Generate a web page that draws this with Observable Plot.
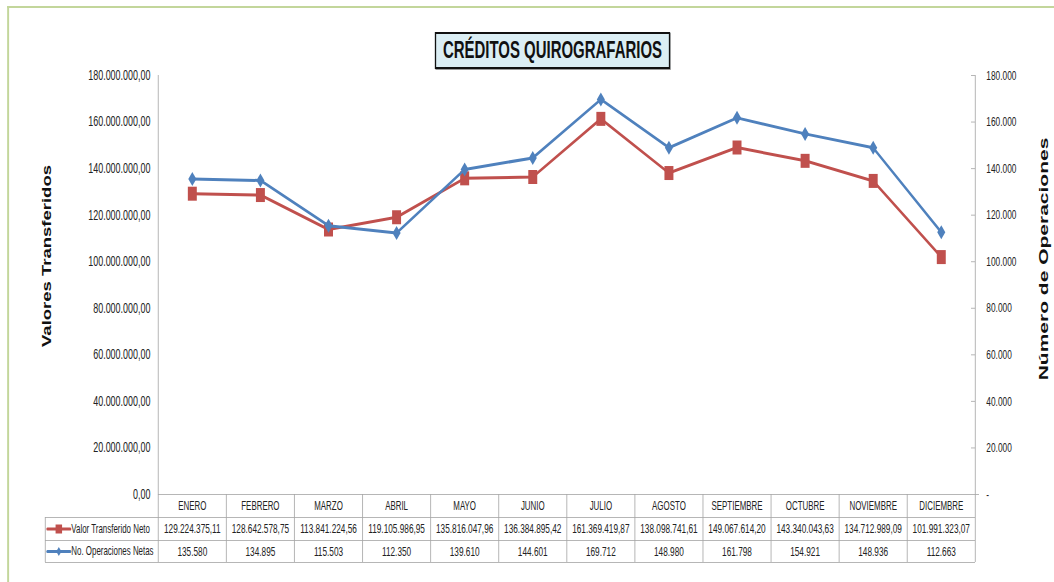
<!DOCTYPE html>
<html>
<head>
<meta charset="utf-8">
<script src="https://cdn.jsdelivr.net/npm/d3@7"></script>
<script src="https://cdn.jsdelivr.net/npm/@observablehq/plot@0.6"></script>
<style>
  html, body { margin: 0; padding: 0; background: #fff; }
  #outer { position: relative; width: 1054px; height: 582px; overflow: hidden; background: #fff; }
  #inner { position: absolute; left: 0; top: 0; height: 582px; transform-origin: 0 0; }
  #frame { position: absolute; top: 6px; height: 700px; border-top: 2px solid #c3d69b; border-left: 3px solid #c3d69b; }
  #title { position: absolute; box-sizing: border-box; background: #dbeef4; border: 2px solid #111;
           box-shadow: 1px 1px 0 #9a9a9a; font: bold 23px "Liberation Sans", Arial, sans-serif; color: #111;
           display: flex; align-items: center; justify-content: center; white-space: nowrap; }
  #chart { position: absolute; left: 0; top: 0; }
</style>
</head>
<body>
<div id="outer"><div id="inner"><div id="frame"></div><div id="chart"></div><div id="title"></div></div></div>
<script>
// ---------- data ----------
const months = ["ENERO", "FEBRERO", "MARZO", "ABRIL", "MAYO", "JUNIO", "JULIO", "AGOSTO", "SEPTIEMBRE", "OCTUBRE", "NOVIEMBRE", "DICIEMBRE"];
const valorNeto = [129224375.11, 128642578.75, 113841224.56, 119105986.95, 135816047.96, 136384895.42, 161369419.87, 138098741.61, 149067614.20, 143340043.63, 134712989.09, 101991323.07];
const operaciones = [135580, 134895, 115503, 112350, 139610, 144601, 169712, 148980, 161798, 154921, 148936, 112663];
const yTicks = [0, 20e6, 40e6, 60e6, 80e6, 100e6, 120e6, 140e6, 160e6, 180e6];
const seriesNames = ["Valor Transferido Neto", "No. Operaciones Netas"];
const axisTitles = ["Valores Transferidos", "Número de Operaciones"];
const chartTitle = "CRÉDITOS QUIROGRAFARIOS";

// ---------- layout (horizontal squeeze like the reference) ----------
const S = 0.65;
const W = Math.round(1054 / S);
const H = 582, ML = 243, MR = 122, MT = 75, MB = 88;
const frameR = W - MR;
const RED = "#c0504d", BLUE = "#4f81bd", GRID = "#a6a6a6";
const FONT = "'Liberation Sans', Arial, sans-serif";

const inner = document.getElementById("inner");
inner.style.width = W + "px";
inner.style.transform = `scaleX(${S})`;
const frame = document.getElementById("frame");
frame.style.left = (7 / S) + "px";
frame.style.width = (W) + "px";
const title = document.getElementById("title");
title.textContent = chartTitle;
title.style.left = (435 / S) + "px";
title.style.top = "32px";
title.style.width = ((670 - 435) / S) + "px";
title.style.height = "37px";

const locale = d3.formatLocale({decimal: ",", thousands: ".", grouping: [3], currency: ["", ""]});
const fmtMoney = locale.format(",.2f");
const fmtInt = locale.format(",d");

const rows = months.map((m, i) => ({month: m, pos: i + 0.5, valor: valorNeto[i], ops: operaciones[i], opsScaled: operaciones[i] * 1000}));

// real-pixel helpers for the data table drawn below the frame
const xPx = px => (px / S - ML) * 12 / (frameR - ML);
const yPx = py => (H - MB - py) * 180e6 / (H - MB - MT);

const squareSym = {draw(c) { c.moveTo(-6.9, -7); c.lineTo(6.9, -7); c.lineTo(6.9, 7); c.lineTo(-6.9, 7); c.closePath(); }};
const diamondSym = {draw(c) { c.moveTo(0, -7); c.lineTo(6.2, 0); c.lineTo(0, 7); c.lineTo(-6.2, 0); c.closePath(); }};
const squareSmall = {draw(c) { c.moveTo(-5, -4.5); c.lineTo(5, -4.5); c.lineTo(5, 4.5); c.lineTo(-5, 4.5); c.closePath(); }};
const diamondSmall = {draw(c) { c.moveTo(0, -4.5); c.lineTo(4, 0); c.lineTo(0, 4.5); c.lineTo(-4, 0); c.closePath(); }};

const hLines = [517, 540, 562].map(py => ({y: yPx(py)}));
const vLines = d3.range(13).map(k => ({x: k}));
const legendRows = [
  {name: seriesNames[0], color: RED, y: yPx(528.5), sym: squareSmall},
  {name: seriesNames[1], color: BLUE, y: yPx(551), sym: diamondSmall}
];

const chart = Plot.plot({
  width: W, height: H,
  marginLeft: ML, marginRight: MR, marginTop: MT, marginBottom: MB,
  x: {domain: [0, 12], axis: null},
  y: {domain: [0, 180e6], axis: null},
  style: {fontFamily: FONT, fontSize: "12px", color: "#222", background: "transparent", overflow: "visible"},
  marks: [
    // axes
    Plot.axisY({ticks: yTicks, tickFormat: fmtMoney, tickSize: 0, tickPadding: 12, fontSize: 13.8}),
    Plot.axisY({anchor: "right", ticks: yTicks, tickFormat: d => d === 0 ? "-" : fmtInt(d / 1000), tickSize: 0, tickPadding: 17, fontSize: 12.8}),
    Plot.ruleY(yTicks.slice(1), {x1: xPx(971), x2: 12, stroke: GRID}),
    Plot.ruleX([0], {y1: 0, y2: 180e6, stroke: GRID}),
    Plot.ruleX([12], {y1: 0, y2: 180e6, stroke: GRID}),
    Plot.ruleY([0], {x1: 0, x2: xPx(979), stroke: GRID}),
    // data table grid
    Plot.ruleY(hLines, {y: "y", x1: xPx(45), x2: 12, stroke: GRID}),
    Plot.ruleX(vLines, {x: "x", y1: 0, y2: yPx(562), stroke: GRID}),
    Plot.ruleX([xPx(45)], {y1: yPx(517), y2: yPx(562), stroke: GRID}),
    // data table text
    Plot.text(rows, {x: "pos", y: () => yPx(506), text: "month", fontSize: 12.2, fill: "#222"}),
    Plot.text(rows, {x: "pos", y: () => yPx(528.5), text: d => fmtMoney(d.valor), fontSize: 12.7, fill: "#222"}),
    Plot.text(rows, {x: "pos", y: () => yPx(551), text: d => fmtInt(d.ops), fontSize: 12.7, fill: "#222"}),
    // legend inside table
    ...legendRows.flatMap(r => [
      Plot.line([{x: xPx(47), y: r.y}, {x: xPx(70), y: r.y}], {x: "x", y: "y", stroke: r.color, strokeWidth: 3}),
      Plot.dot([{x: xPx(58.5), y: r.y}], {x: "x", y: "y", symbol: r.sym, fill: r.color, stroke: "none"}),
      Plot.text([r], {x: () => xPx(71), y: "y", text: "name", textAnchor: "start", fontSize: 12.2, fill: "#222"})
    ]),
    // series
    Plot.line(rows, {x: "pos", y: "valor", stroke: RED, strokeWidth: 3}),
    Plot.dot(rows, {x: "pos", y: "valor", symbol: squareSym, fill: RED, stroke: "none"}),
    Plot.line(rows, {x: "pos", y: "opsScaled", stroke: BLUE, strokeWidth: 3}),
    Plot.dot(rows, {x: "pos", y: "opsScaled", symbol: diamondSym, fill: BLUE, stroke: "none"}),
    // axis titles
    Plot.text([axisTitles[0]], {frameAnchor: "left", textAnchor: "middle", dx: (47 - 158) / S, dy: -29, rotate: -90, fontSize: 18.5, fontWeight: "bold", fill: "#111"}),
    Plot.text([axisTitles[1]], {frameAnchor: "right", textAnchor: "middle", dx: (1043 - 975) / S, dy: -26, rotate: -90, fontSize: 21, fontWeight: "bold", fill: "#111"})
  ]
});
document.getElementById("chart").appendChild(chart);
</script>
</body>
</html>
